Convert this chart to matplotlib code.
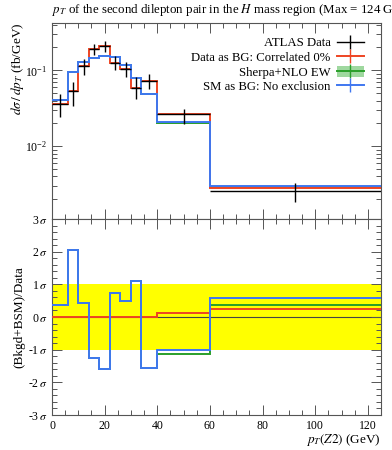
import matplotlib
matplotlib.use("Agg")
import matplotlib.pyplot as plt
from matplotlib.lines import Line2D
from matplotlib.patches import Patch
from matplotlib.ticker import MultipleLocator, FixedLocator, FixedFormatter, LogLocator, NullFormatter
import numpy as np

plt.rcParams['font.family'] = 'serif'
plt.rcParams['font.serif'] = ['Liberation Serif', 'DejaVu Serif']
plt.rcParams['mathtext.fontset'] = 'stix'

# ---------------- data ----------------
edges = [0, 6, 10, 14, 18, 22, 26, 30, 34, 40, 60, 125]
data = [0.0365, 0.0534, 0.114, 0.189, 0.209, 0.126, 0.103, 0.059, 0.072, 0.0264, 0.0026]
data_hi = [0.0483, 0.0702, 0.142, 0.224, 0.243, 0.154, 0.129, 0.0816, 0.090, 0.0313, 0.00329]
data_lo = [0.0243, 0.0336, 0.0878, 0.161, 0.174, 0.102, 0.082, 0.0415, 0.0574, 0.0199, 0.00184]
red_vals = [0.0365, 0.0534, 0.114, 0.189, 0.209, 0.126, 0.103, 0.059, 0.072, 0.0268, 0.0028]
green_vals = [0.0411, 0.095, 0.128, 0.147, 0.154, 0.150, 0.119, 0.079, 0.0483, 0.0203, 0.0029]
green_band_lo = [0.0400, 0.0925, 0.1250, 0.1435, 0.1500, 0.1460, 0.1160, 0.0770, 0.0470, 0.0198, 0.00283]
green_band_hi = [0.0422, 0.0975, 0.1310, 0.1505, 0.1580, 0.1540, 0.1220, 0.0810, 0.0496, 0.0208, 0.00297]
blue_vals = [0.0411, 0.095, 0.128, 0.147, 0.154, 0.150, 0.119, 0.079, 0.0483, 0.0209, 0.0030]

red_ratio = [0, 0, 0, 0, 0, 0, 0, 0, 0, 0.12, 0.24]
green_ratio = [0.38, 2.06, 0.44, -1.24, -1.59, 0.72, 0.48, 1.11, -1.57, -1.14, 0.36]
blue_ratio = [0.38, 2.06, 0.44, -1.24, -1.59, 0.72, 0.48, 1.11, -1.57, -1.0, 0.58]

labels = ["ATLAS Data", "Data as BG: Correlated 0%", "Sherpa+NLO EW", "SM as BG: No exclusion"]
sigma_ticks = [-3, -2, -1, 0, 1, 2, 3]
sigma_labels = ["-3$\\,\\sigma$", "-2$\\,\\sigma$", "-1$\\,\\sigma$", "0$\\,\\sigma$",
                "1$\\,\\sigma$", "2$\\,\\sigma$", "3$\\,\\sigma$"]
x_ticks = [0, 20, 40, 60, 80, 100, 120]

RED = '#EE4422'
GREEN = '#2A9F2A'
GREEN_BAND = '#9FD89F'
BLUE = '#3F77F0'
FRAME = '#555555'

W, H = 392, 450
fig = plt.figure(figsize=(W / 100, H / 100), dpi=100)
L, R = 52, 381
top_t, mid, bot_b = 23, 219, 415
ax = fig.add_axes([L / W, 1 - mid / H, (R - L) / W, (mid - top_t) / H])
axr = fig.add_axes([L / W, 1 - bot_b / H, (R - L) / W, (bot_b - mid) / H])

edges_a = np.array(edges, dtype=float)
centers = 0.5 * (edges_a[1:] + edges_a[:-1])
halfw = 0.5 * (edges_a[1:] - edges_a[:-1])
d = np.array(data)

# ---------------- main panel ----------------
ax.stairs(green_band_hi, edges, baseline=green_band_lo, fill=True, color=GREEN_BAND, lw=0, zorder=1)
ax.stairs(green_vals, edges, baseline=None, color=GREEN, lw=1.4, zorder=2)
ax.stairs(red_vals, edges, baseline=None, color=RED, lw=1.4, zorder=3)
ax.stairs(blue_vals, edges, baseline=None, color=BLUE, lw=1.4, zorder=4)
ax.errorbar(centers, d, xerr=halfw, yerr=[d - np.array(data_lo), np.array(data_hi) - d],
            fmt='none', ecolor='black', elinewidth=1.0, capsize=0, zorder=5)

ax.set_yscale('log')
ax.set_xlim(0, 125)
ax.set_ylim(1.1e-3, 0.42)
ax.xaxis.set_major_locator(MultipleLocator(20))
ax.xaxis.set_minor_locator(MultipleLocator(5))
ax.xaxis.set_major_formatter(NullFormatter())
ax.yaxis.set_major_locator(LogLocator(base=10, numticks=10))
ax.yaxis.set_minor_locator(LogLocator(base=10, subs=np.arange(2, 10), numticks=10))
ax.yaxis.set_minor_formatter(NullFormatter())

ax.set_ylabel(r"$d\sigma\,/\,dp_T$ (fb/GeV)", fontsize=9.5, loc='top')

handles = [
    Line2D([], [], color='black', lw=1.0, marker='|', markersize=10, mew=1.0),
    Line2D([], [], color=RED, lw=1.4, marker='|', markersize=10, mew=1.0),
    (Patch(facecolor=GREEN_BAND, edgecolor='none'),
     Line2D([], [], color=GREEN, lw=1.4, marker='|', markersize=10, mew=1.0)),
    Line2D([], [], color=BLUE, lw=1.4, marker='|', markersize=10, mew=1.0),
]
leg = ax.legend(handles, labels, loc='upper right', bbox_to_anchor=(0.948, 0.93),
                frameon=False, markerfirst=False, fontsize=9.2, handlelength=2.1,
                handletextpad=0.5, labelspacing=0.15, borderpad=0, borderaxespad=0,
                handleheight=0.9)

# ---------------- ratio panel ----------------
axr.axhspan(-1, 1, color='#FFFF00', lw=0, zorder=0)
axr.axhline(0, color='#444444', lw=0.8, zorder=1)
axr.stairs(green_ratio, edges, baseline=None, color=GREEN, lw=1.4, zorder=2)
axr.stairs(red_ratio, edges, baseline=None, color=RED, lw=1.4, zorder=3)
axr.stairs(blue_ratio, edges, baseline=None, color=BLUE, lw=1.4, zorder=4)

axr.set_xlim(0, 125)
axr.set_ylim(-3, 3)
axr.xaxis.set_major_locator(FixedLocator(x_ticks))
axr.xaxis.set_minor_locator(MultipleLocator(5))
axr.yaxis.set_major_locator(FixedLocator(sigma_ticks))
axr.yaxis.set_major_formatter(FixedFormatter(sigma_labels))
axr.yaxis.set_minor_locator(MultipleLocator(0.2))
axr.set_ylabel("(Bkgd+BSM)/Data", fontsize=9.5)

for a in (ax, axr):
    for s in a.spines.values():
        s.set_color(FRAME)
        s.set_linewidth(0.8)
    a.tick_params(which='both', direction='in', top=True, right=True, color=FRAME,
                  labelsize=8.5, width=0.7)
    a.tick_params(which='major', length=7)
    a.tick_params(which='minor', length=3.5)

fig.text((R) / W, 1 - 440 / H, r"$p_T(Z2)$ (GeV)", ha='right', va='center', fontsize=9.5)
fig.text(L / W, 1 - 10 / H,
         r"$p_T$ of the second dilepton pair in the $H$ mass region (Max = 124 GeV)",
         ha='left', va='center', fontsize=9.3)
ax.yaxis.set_label_coords(-0.08, 1.0)
axr.yaxis.set_label_coords(-0.08, 0.5)

fig.savefig("out.png", dpi=100)
